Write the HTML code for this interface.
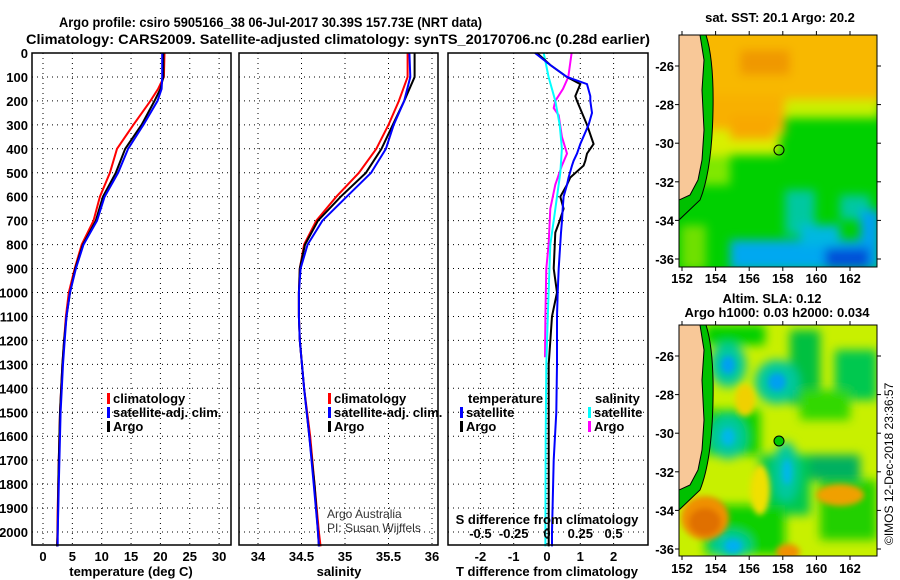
<!DOCTYPE html>
<html><head><meta charset="utf-8"><style>
html,body{margin:0;padding:0;background:#fff;}
svg{display:block;font-family:"Liberation Sans",sans-serif;}
.t{font-weight:bold;font-size:13px;fill:#000;}
</style></head><body>
<svg id="chart" width="900" height="580" viewBox="0 0 900 580" xmlns="http://www.w3.org/2000/svg">
<defs>
<filter id="bl" x="-30%" y="-30%" width="160%" height="160%"><feGaussianBlur stdDeviation="5"/></filter>
<filter id="bl2" x="-30%" y="-30%" width="160%" height="160%"><feGaussianBlur stdDeviation="3"/></filter>
<clipPath id="m1c"><rect x="679" y="35" width="198" height="232"/></clipPath>
<clipPath id="m2c"><rect x="679" y="325" width="198" height="231"/></clipPath>
</defs>
<text x="59" y="27" font-size="14" font-weight="bold" textLength="423" lengthAdjust="spacingAndGlyphs">Argo profile: csiro 5905166_38 06-Jul-2017 30.39S 157.73E (NRT data)</text>
<text x="26" y="44" font-size="14" font-weight="bold" textLength="624" lengthAdjust="spacingAndGlyphs">Climatology: CARS2009. Satellite-adjusted climatology: synTS_20170706.nc (0.28d earlier)</text>
<g id="plots"></g>

<!-- SST map -->
<g clip-path="url(#m1c)">
<rect x="679" y="35" width="198" height="232" fill="#00d000"/>
<g filter="url(#bl)">
<rect x="679" y="25" width="205" height="80" fill="#f8b800"/>
<rect x="780" y="100" width="100" height="18" fill="#c8f000"/>
<rect x="690" y="95" width="95" height="40" fill="#f8b000"/>
<rect x="740" y="50" width="50" height="25" fill="#f09800"/>
<rect x="700" y="130" width="80" height="25" fill="#d8f000"/>
<rect x="730" y="115" width="45" height="25" fill="#f8a800"/>
<rect x="690" y="155" width="40" height="30" fill="#80e800"/>
<rect x="785" y="190" width="30" height="45" fill="#00c8a0"/>
<rect x="840" y="195" width="30" height="25" fill="#00c8a0"/>
<rect x="730" y="240" width="150" height="30" fill="#00a8f0"/>
<rect x="800" y="225" width="40" height="20" fill="#00b8e0"/>
<rect x="860" y="210" width="20" height="40" fill="#00a0f0"/>
<rect x="825" y="248" width="45" height="20" fill="#0050d8"/>
<rect x="681" y="225" width="25" height="45" fill="#70e000"/>
</g>
<path d="M679,35 L706,35 Q714,60 713,110 Q712,170 700,200 L679,220 Z" fill="#00c000"/>
<path d="M679,35 L700,35 L704,60 L702,90 L704,130 L702,160 L698,180 L690,195 L679,200 Z" fill="#f8c898" stroke="#000" stroke-width="1"/>
<path d="M706,35 Q714,60 713,110 Q712,170 700,200 L679,220" fill="none" stroke="#000" stroke-width="1"/>
<circle cx="779" cy="150" r="5" fill="none" stroke="#000"/>
</g>
<rect x="679" y="35" width="198" height="232" fill="none" stroke="#000"/>
<text class="t" x="780" y="22" text-anchor="middle">sat. SST: 20.1 Argo: 20.2</text>

<!-- SLA map -->
<g clip-path="url(#m2c)">
<rect x="679" y="325" width="198" height="231" fill="#c8f000"/>
<g filter="url(#bl)">
<rect x="705" y="325" width="60" height="20" fill="#00d000"/>
<rect x="790" y="330" width="30" height="75" fill="#00c040"/>
<rect x="835" y="350" width="42" height="50" fill="#00c850"/>
<rect x="705" y="410" width="55" height="45" fill="#10d000"/>
<rect x="760" y="455" width="50" height="60" fill="#00c850"/>
<rect x="820" y="480" width="57" height="60" fill="#20d000"/>
<rect x="705" y="505" width="80" height="50" fill="#10d000"/>
<rect x="810" y="455" width="50" height="25" fill="#00b060"/>
<rect x="800" y="390" width="50" height="30" fill="#30d800"/>
<ellipse cx="728" cy="365" rx="18" ry="22" fill="#00c8a0"/>
<ellipse cx="777" cy="382" rx="22" ry="22" fill="#00c8a0"/>
<ellipse cx="728" cy="437" rx="18" ry="22" fill="#00c8a0"/>
<ellipse cx="786" cy="472" rx="13" ry="30" fill="#00c8a0"/>
<ellipse cx="731" cy="545" rx="20" ry="14" fill="#00c8a0"/>
</g>
<g filter="url(#bl2)">
<ellipse cx="728" cy="365" rx="7" ry="9" fill="#00a0f0"/>
<ellipse cx="777" cy="382" rx="9" ry="9" fill="#00a0f0"/>
<ellipse cx="728" cy="437" rx="7" ry="9" fill="#00b8e8"/>
<ellipse cx="787" cy="472" rx="5" ry="13" fill="#00b8e8"/>
<ellipse cx="733" cy="546" rx="9" ry="7" fill="#00b0f0"/>
<ellipse cx="705" cy="518" rx="24" ry="22" fill="#f09000"/>
<ellipse cx="705" cy="522" rx="16" ry="14" fill="#e07000"/>
<ellipse cx="840" cy="495" rx="24" ry="11" fill="#f0a000"/>
<ellipse cx="788" cy="552" rx="12" ry="8" fill="#f09000"/>
<ellipse cx="745" cy="400" rx="10" ry="16" fill="#f0d000"/>
<ellipse cx="760" cy="490" rx="10" ry="25" fill="#f0e000"/>
</g>
<path d="M679,325 L706,325 Q714,350 713,400 Q712,460 700,490 L679,510 Z" fill="#00c000"/>
<path d="M679,325 L700,325 L704,350 L702,380 L704,420 L702,450 L698,470 L690,485 L679,490 Z" fill="#f8c898" stroke="#000" stroke-width="1"/>
<path d="M706,325 Q714,350 713,400 Q712,460 700,490 L679,510" fill="none" stroke="#000" stroke-width="1"/>
<circle cx="779" cy="441" r="5" fill="#00c800" stroke="#000"/>
</g>
<rect x="679" y="325" width="198" height="231" fill="none" stroke="#000"/>
<text class="t" x="772" y="303" text-anchor="middle">Altim. SLA: 0.12</text>
<text class="t" x="777" y="317" text-anchor="middle">Argo h1000: 0.03 h2000: 0.034</text>
<text x="893" y="545" font-size="12" transform="rotate(-90 893 545)">©IMOS 12-Dec-2018 23:36:57</text>
<g id="mapaxes"></g>
</svg>
<script>
// ---- data ----
const depthTicks = [0,100,200,300,400,500,600,700,800,900,1000,1100,1200,1300,1400,1500,1600,1700,1800,1900,2000];
const tempTicks = [0,5,10,15,20,25,30];
const salTicks = [34,34.5,35,35.5,36];
const tdiffTicks = [-2,-1,0,1,2];
const sdiffTicks = [-0.5,-0.25,0,0.25,0.5];
const lonTicks = [152,154,156,158,160,162];
const latTicks = [-26,-28,-30,-32,-34,-36];

const tDepth = [0,100,150,200,300,400,500,600,700,800,900,1000,1100,1200,1300,1400,1500,1600,1700,1800,1900,2000,2060];
const tClim = [20.7,20.6,19.6,18.3,15.4,12.6,11.4,9.7,8.6,6.6,5.4,4.4,3.9,3.6,3.3,3.1,2.9,2.8,2.7,2.6,2.5,2.45,2.4];
const tSat  = [20.3,20.3,20.2,19.5,17.1,14.5,12.8,10.5,9.2,6.9,5.6,4.6,4.0,3.7,3.4,3.2,3.0,2.9,2.8,2.7,2.6,2.5,2.5];
const tArgo = [20.5,20.5,20.0,19.0,16.8,14.0,12.4,10.2,9.0,6.8,5.5,4.6,4.0,3.6,3.3,3.1,2.9,2.8,2.7,2.6,2.55,2.5,2.4];

const sDepth = [0,100,200,300,400,500,600,700,800,900,1000,1100,1200,1400,1600,1800,2000,2060];
const sClim = [35.72,35.72,35.62,35.5,35.36,35.16,34.9,34.67,34.53,34.48,34.47,34.47,34.48,34.53,34.6,34.65,34.7,34.72];
const sSat  = [35.74,35.75,35.68,35.56,35.47,35.3,35.02,34.74,34.57,34.49,34.47,34.47,34.48,34.53,34.59,34.64,34.69,34.7];
const sArgo = [35.8,35.8,35.68,35.55,35.42,35.24,34.95,34.69,34.54,34.48,34.47,34.47,34.48,34.53,34.59,34.65,34.69,34.7];

const dDepth = [0,50,100,130,180,200,250,300,380,420,450,470,520,550,600,650,700,750,900,1000,1100,1300,1500,1700,2000,2060];
const dtSat  = [-0.36,0.1,0.6,1.2,1.3,1.3,1.35,1.25,1.0,0.9,0.8,0.75,0.65,0.6,0.5,0.47,0.45,0.42,0.35,0.32,0.3,0.3,0.28,0.2,0.15,0.15];
const dtArgo = [-0.3,0.1,0.6,1.0,0.85,0.9,1.05,1.2,1.4,1.2,1.15,1.1,0.7,0.6,0.4,0.5,0.38,0.25,0.2,0.3,0.15,0.05,0.05,0.05,0.05,0.05];
const sdDepth = [0,100,150,200,230,260,350,420,470,550,650,800,900,1100,1270];
const dsArgo = [0.185,0.16,0.12,0.062,0.05,0.088,0.112,0.15,0.112,0.062,0.025,0.012,-0.005,-0.012,-0.015];
const csDepth = [0,100,200,300,400,500,600,700,800,1000,1300,1600,2000,2060];
const dsSat = [-0.025,0.012,0.062,0.095,0.112,0.1,0.075,0.05,0.025,0.012,-0.005,-0.01,-0.012,-0.012];

// ---- layout ----
const NS="http://www.w3.org/2000/svg";
const svg=document.getElementById('plots');
const Y0=53, DY=0.2395, BOT=545;
const yD=d=>Y0+d*DY;
const xT=t=>43+t*5.87;
const xS=s=>258+(s-34)*87;
const xDT=t=>547+t*33.3;
const xDS=s=>547+s*4*33.3;
function mk(tag,attrs,parent){const e=document.createElementNS(NS,tag);for(const k in attrs)e.setAttribute(k,attrs[k]);(parent||svg).appendChild(e);return e;}
function txt(x,y,s,anchor,parent,cls){const e=mk('text',{x:x,y:y,'text-anchor':anchor||'start',class:cls||'t'},parent);e.textContent=s;return e;}

const panels=[{x0:32,x1:231,name:'temperature'},{x0:239,x1:438,name:'salinity'},{x0:448,x1:648,name:'difference'}];
panels.forEach(p=>{
  depthTicks.forEach(d=>{
    const l=mk('line',{x1:p.x0,x2:p.x1,y1:yD(d),y2:yD(d),stroke:'#000','stroke-dasharray':'1,4'});
    
    
  });
});
function vgrid(ticks,fx,p){ticks.forEach(t=>{const l=mk('line',{x1:fx(t),x2:fx(t),y1:Y0,y2:BOT,stroke:'#000','stroke-dasharray':'1,4'});
  
  });}
vgrid(tempTicks,xT,'temperature');vgrid(salTicks,xS,'salinity');vgrid(tdiffTicks,xDT,'difference');

function line(xs,ds,fx,color,name,w){
  const pts=xs.map((v,i)=>fx(v).toFixed(1)+','+yD(ds[i]).toFixed(1)).join(' ');
  const e=mk('polyline',{points:pts,fill:'none',stroke:color,'stroke-width':w||2});
  
  
}
line(tClim,tDepth,xT,'#f00','temp-climatology-line');
line(tArgo,tDepth,xT,'#000','temp-argo-line');
line(tSat,tDepth,xT,'#00f','temp-satellite-line');
line(sClim,sDepth,xS,'#f00','sal-climatology-line');
line(sArgo,sDepth,xS,'#000','sal-argo-line');
line(sSat,sDepth,xS,'#00f','sal-satellite-line');
line(dsArgo,sdDepth,xDS,'#f0f','sdiff-argo-line');
line(dsSat,csDepth,xDS,'#0ff','sdiff-satellite-line');
line(dtArgo,dDepth,xDT,'#000','tdiff-argo-line');
line(dtSat,dDepth,xDT,'#00f','tdiff-satellite-line');

panels.forEach(p=>{const r=mk('rect',{x:p.x0,y:Y0,width:p.x1-p.x0,height:BOT-Y0,fill:'none',stroke:'#000','stroke-width':1.5});
  
  });

depthTicks.forEach(d=>{const e=txt(28,yD(d)+5,String(d),'end');
  
  });
tempTicks.forEach(t=>{const e=txt(xT(t),561,String(t),'middle');
  
  });
salTicks.forEach(t=>{const e=txt(xS(t),561,String(t),'middle');
  
  });
tdiffTicks.forEach(t=>{const e=txt(xDT(t),561,String(t),'middle');
  
  });
sdiffTicks.forEach(t=>{const e=txt(xDS(t),538,String(t),'middle');
  
  });
let e;
e=txt(131,576,'temperature (deg C)','middle');
e=txt(339,576,'salinity','middle');
e=txt(547,576,'T difference from climatology','middle');
e=txt(547,524,'S difference from climatology','middle');

function legend(x,y,color,label,name){
  const b=mk('rect',{x:x,y:y-10,width:3,height:11,fill:color});
  
  
  const t=txt(x+6,y,label,'start');
  
  
}
legend(107,403,'#f00','climatology','legend-temp-climatology');
legend(107,417,'#00f','satellite-adj. clim.','legend-temp-satellite');
legend(107,431,'#000','Argo','legend-temp-argo');
legend(328,403,'#f00','climatology','legend-sal-climatology');
legend(328,417,'#00f','satellite-adj. clim.','legend-sal-satellite');
legend(328,431,'#000','Argo','legend-sal-argo');
e=txt(468,403,'temperature');
legend(460,417,'#00f','satellite','legend-tdiff-satellite');
legend(460,431,'#000','Argo','legend-tdiff-argo');
e=txt(595,403,'salinity');
legend(588,417,'#0ff','satellite','legend-sdiff-satellite');
legend(588,431,'#f0f','Argo','legend-sdiff-argo');
e=mk('text',{x:327,y:518,'font-size':12,fill:'#333'});e.textContent='Argo Australia';
e=mk('text',{x:327,y:532,'font-size':12,fill:'#333'});e.textContent='PI: Susan Wijffels';

// map axes
const ma=document.getElementById('mapaxes');
const xLon=l=>682+(l-152)*16.8;
[[35,267,283],[325,556,573]].forEach((m)=>{
  const latY=l=>m[0]+31+(-26-l)*(19.3);
  lonTicks.forEach(l=>{
    mk('line',{x1:xLon(l),x2:xLon(l),y1:m[0],y2:m[0]-4,stroke:'#000'},ma);
    mk('line',{x1:xLon(l),x2:xLon(l),y1:m[1],y2:m[1]+4,stroke:'#000'},ma);
    const t=txt(xLon(l),m[2],String(l),'middle',ma);
    
    
  });
  latTicks.forEach(l=>{
    mk('line',{x1:877,x2:881,y1:latY(l),y2:latY(l),stroke:'#000'},ma);
    mk('line',{x1:679,x2:675,y1:latY(l),y2:latY(l),stroke:'#000'},ma);
    const t=txt(674,latY(l)+5,String(l),'end',ma);
    
    
  });
});
</script>
</body></html>
